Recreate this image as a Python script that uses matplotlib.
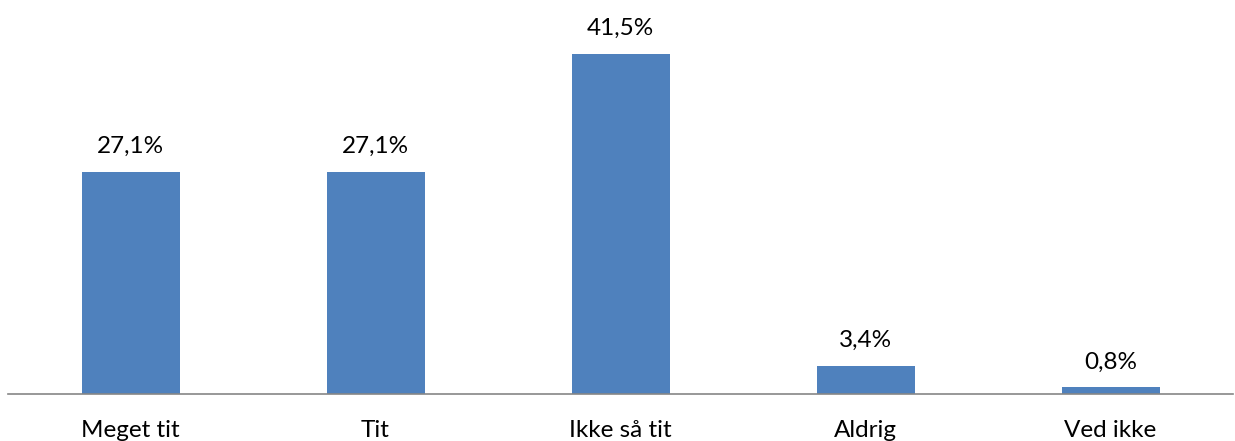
import matplotlib
matplotlib.use("Agg")
import matplotlib.pyplot as plt

categories = ["Meget tit", "Tit", "Ikke så tit", "Aldrig", "Ved ikke"]
values = [27.1, 27.1, 41.5, 3.4, 0.8]
labels = ["27,1%", "27,1%", "41,5%", "3,4%", "0,8%"]

plt.rcParams['font.family'] = ['Lato', 'DejaVu Sans']

fig = plt.figure(figsize=(12.35, 4.41), dpi=100)
ax = fig.add_axes([8/1235, 1 - 394/441, 1225/1235, 394/441])
x = range(len(categories))
bars = ax.bar(x, values, width=0.4, color="#4F81BD")
for xi, v, lab in zip(x, values, labels):
    ax.annotate(lab, (xi, v), xytext=(0, 13.7), textcoords="offset points",
                ha="center", va="baseline", fontsize=17.5, color="#000000")
ax.set_xlim(-0.5, len(categories) - 0.5)
ax.set_ylim(0, 48.1)
ax.set_xticks(list(x))
ax.set_xticklabels(categories, fontsize=17.5)
ax.tick_params(axis="x", length=0, pad=19)
ax.set_yticks([])
for s in ["top", "left", "right"]:
    ax.spines[s].set_visible(False)
ax.spines["bottom"].set_color("#868686")
ax.spines["bottom"].set_linewidth(1.2)
fig.savefig("out.png", dpi=100)
